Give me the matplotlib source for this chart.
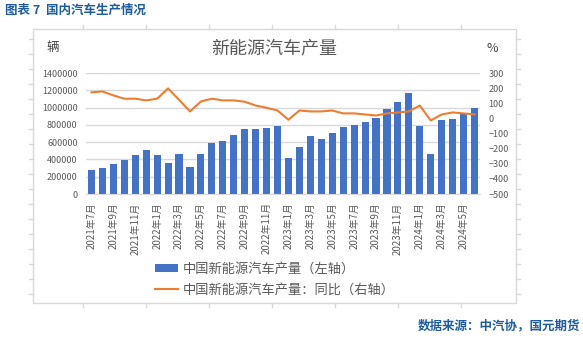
import numpy as np
import matplotlib
matplotlib.use('Agg')
import matplotlib.pyplot as plt
from matplotlib.patches import Rectangle

plt.rcParams['font.family'] = ['Noto Sans CJK SC', 'DejaVu Sans']

# 月份（2021年7月 - 2024年6月）
months = ['2021年7月', '2021年8月', '2021年9月', '2021年10月', '2021年11月', '2021年12月',
          '2022年1月', '2022年2月', '2022年3月', '2022年4月', '2022年5月', '2022年6月',
          '2022年7月', '2022年8月', '2022年9月', '2022年10月', '2022年11月', '2022年12月',
          '2023年1月', '2023年2月', '2023年3月', '2023年4月', '2023年5月', '2023年6月',
          '2023年7月', '2023年8月', '2023年9月', '2023年10月', '2023年11月', '2023年12月',
          '2024年1月', '2024年2月', '2024年3月', '2024年4月', '2024年5月', '2024年6月']

# 新能源汽车产量（辆）
production = [280000, 302000, 348000, 398000, 453000, 511000,
              453000, 360000, 464000, 313000, 464000, 592000,
              615000, 685000, 754000, 756000, 766000, 789000,
              414000, 545000, 673000, 638000, 708000, 778000,
              801000, 836000, 882000, 986000, 1068000, 1172000,
              789000, 464000, 859000, 870000, 940000, 998000]

# 同比（%）
yoy = [172, 178, 152, 130, 130, 119,
       130, 198, 123, 46, 112, 130,
       119, 119, 110, 85, 70, 52,
       -9, 52, 46, 46, 52, 33,
       33, 26, 19, 33, 39, 46,
       85, -14, 26, 39, 33, 26]

left_ticks = np.arange(0, 1400001, 200000)
right_ticks = np.arange(-500, 301, 100)

W, H = 583, 338
fig = plt.figure(figsize=(W / 100, H / 100), dpi=100)

# 背景层（像素坐标）：图表框和表格网格线残留
bg = fig.add_axes([0, 0, 1, 1])
bg.set_xlim(0, W)
bg.set_ylim(H, 0)
bg.axis('off')
grid_c = '#D9D9D9'
bg.add_patch(Rectangle((33, 29), 483, 274, facecolor='white', edgecolor=grid_c, lw=1))
for gx in [83, 146, 209, 272, 335, 398, 461]:
    bg.plot([gx, gx], [25, 29], color=grid_c, lw=1)
    bg.plot([gx, gx], [303, 307], color=grid_c, lw=1)
for gy in range(39, 300, 15):
    bg.plot([29, 33], [gy, gy], color=grid_c, lw=1)
    bg.plot([516, 520], [gy, gy], color=grid_c, lw=1)

gray = '#595959'
blue_txt = '#1F5C9E'
fig.text(5 / W, 1 - 10 / H, '图表 7  国内汽车生产情况', color=blue_txt, fontsize=9,
         fontweight='bold', ha='left', va='center')
fig.text(580 / W, 1 - 326 / H, '数据来源：中汽协，国元期货', color=blue_txt, fontsize=9,
         fontweight='bold', ha='right', va='center')
fig.text(274 / W, 1 - 48 / H, '新能源汽车产量', color=gray, fontsize=13, ha='center', va='center')
fig.text(53 / W, 1 - 48 / H, '辆', color='#404040', fontsize=9, ha='center', va='center')
fig.text(492 / W, 1 - 48 / H, '%', color='#404040', fontsize=9, ha='center', va='center')

# 主图：柱状图（左轴）
ax1 = fig.add_axes([86 / W, 1 - 194 / H, 394 / W, 121 / H])
ax1.patch.set_alpha(0)
x = np.arange(len(months))
bars = ax1.bar(x, production, width=0.65, color='#4472C4', label='中国新能源汽车产量（左轴）', zorder=2)
ax1.set_xlim(-0.5, len(months) - 0.5)
ax1.set_ylim(0, 1400000)
ax1.set_yticks(left_ticks)
ax1.set_yticklabels([str(v) for v in left_ticks])
ax1.yaxis.grid(True, color=grid_c, lw=1, zorder=0)
ax1.set_axisbelow(True)
for s in ['top', 'left', 'right']:
    ax1.spines[s].set_visible(False)
ax1.spines['bottom'].set_color(grid_c)
ax1.set_xticks(x[::2])
ax1.set_xticklabels(months[::2], rotation=90, fontsize=7, color=gray)
ax1.tick_params(axis='x', length=0, pad=6)
ax1.tick_params(axis='y', length=0, pad=6, labelsize=6.5, labelcolor=gray)

# 折线图：同比（右轴）
ax2 = ax1.twinx()
line, = ax2.plot(x, yoy, color='#ED7D31', lw=1.5, label='中国新能源汽车产量：同比（右轴）', zorder=3)
ax2.set_ylim(-500, 300)
ax2.set_yticks(right_ticks)
for s in ['top', 'left', 'right', 'bottom']:
    ax2.spines[s].set_visible(False)
ax2.tick_params(axis='y', length=0, pad=6, labelsize=6.5, labelcolor=gray)

fig.legend(handles=[bars, line], loc='upper left', bbox_to_anchor=(148 / W, 1 - 256 / H),
           frameon=False, fontsize=9.5, labelcolor=gray, handlelength=1.8,
           handleheight=0.5, handletextpad=0.3, labelspacing=0.6, borderpad=0)

fig.savefig('out.png', dpi=100)
